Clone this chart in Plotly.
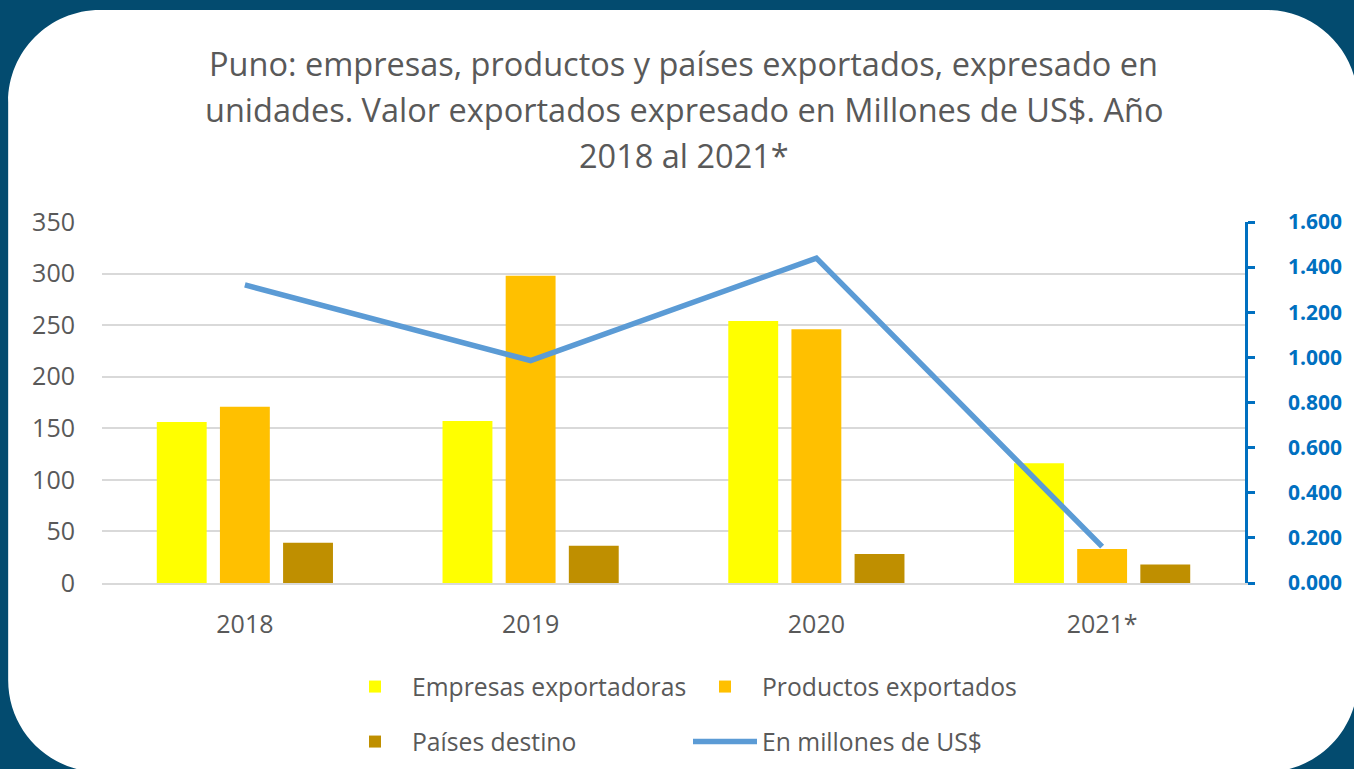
import plotly.graph_objects as go

# data
years = ["2018", "2019", "2020", "2021*"]
empresas = [156, 157, 254, 116]
productos = [171, 298, 246, 33]
paises = [39, 36, 28, 18]
valor_musd = [1.321, 0.986, 1.440, 0.161]

title_lines = [
    "Puno: empresas, productos y países exportados, expresado en",
    "unidades. Valor exportados expresado en Millones de US$. Año",
    "2018 al 2021*",
]

W, H = 1354, 769
PL, PR, PT, PB = 102, 1247, 222, 583  # plot area in pixels
FONT = "Open Sans"
GRAY = "#595959"
BLUE = "#0070C0"
FRAME = "#034B6F"


def fx(px):
    return (px - PL) / (PR - PL)


def fy(py):
    return (PB - py) / (PB - PT)


def rounded_rect(l, t, r, b, rad):
    k = 0.5523 * rad
    pts = [
        f"M{fx(l + rad)},{fy(t)}",
        f"L{fx(r - rad)},{fy(t)}",
        f"C{fx(r - rad + k)},{fy(t)} {fx(r)},{fy(t + rad - k)} {fx(r)},{fy(t + rad)}",
        f"L{fx(r)},{fy(b - rad)}",
        f"C{fx(r)},{fy(b - rad + k)} {fx(r - rad + k)},{fy(b)} {fx(r - rad)},{fy(b)}",
        f"L{fx(l + rad)},{fy(b)}",
        f"C{fx(l + rad - k)},{fy(b)} {fx(l)},{fy(b - rad + k)} {fx(l)},{fy(b - rad)}",
        f"L{fx(l)},{fy(t + rad)}",
        f"C{fx(l)},{fy(t + rad - k)} {fx(l + rad - k)},{fy(t)} {fx(l + rad)},{fy(t)}",
        "Z",
    ]
    return " ".join(pts)


def frame_path():
    # big outer box with the rounded card cut out of it
    outer = (f"M{fx(-60)},{fy(-60)} L{fx(W + 60)},{fy(-60)} "
             f"L{fx(W + 60)},{fy(H + 60)} L{fx(-60)},{fy(H + 60)} Z")
    return outer + " " + rounded_rect(8, 10, 1360, 772, 92)


fig = go.Figure()

fig.add_trace(go.Bar(x=years, y=empresas, name="Empresas exportadoras",
                     marker_color="#FFFF00", legend="legend"))
fig.add_trace(go.Bar(x=years, y=productos, name="Productos exportados",
                     marker_color="#FFC000", legend="legend"))
fig.add_trace(go.Bar(x=years, y=paises, name="Países destino",
                     marker_color="#BF8F00", legend="legend2"))
fig.add_trace(go.Scatter(x=years, y=valor_musd, name="En millones de US$",
                         mode="lines", yaxis="y2", legend="legend2",
                         line=dict(color="#5B9BD5", width=5.5)))

fig.update_traces(marker_line_width=0, selector=dict(type="bar"))

# dark blue frame around the white rounded card
fig.add_shape(type="path", xref="paper", yref="paper", layer="below",
              path=frame_path(), fillrule="evenodd",
              fillcolor=FRAME, line_width=0)

for i, txt in enumerate(title_lines):
    fig.add_annotation(text=txt, xref="paper", yref="paper",
                       x=fx(685), y=fy(63 + 46 * i),
                       xanchor="center", yanchor="middle", showarrow=False,
                       font=dict(family=FONT, size=32.5, color=GRAY))

# legends placed in container coords so they don't push the margins
legend_common = dict(
    orientation="h", xref="container", yref="container", x=338 / W,
    xanchor="left", yanchor="middle", entrywidth=271, itemwidth=64,
    font=dict(family=FONT, size=24.7, color=GRAY), bgcolor="rgba(0,0,0,0)",
    traceorder="normal",
)

fig.update_layout(
    width=W, height=H,
    margin=dict(l=PL, r=W - PR, t=PT, b=H - PB, pad=0),
    paper_bgcolor="white",
    plot_bgcolor="rgba(0,0,0,0)",
    font=dict(family=FONT, color=GRAY),
    barmode="group",
    bargap=0.337,
    bargroupgap=0.21,
    legend=dict(**legend_common, y=1 - 687 / H),
    legend2=dict(**legend_common, y=1 - 742 / H),
)

fig.update_xaxes(
    showgrid=False, showline=True, linecolor="#D9D9D9", linewidth=2,
    ticks="", tickfont=dict(family=FONT, size=25, color=GRAY),
    ticklabelstandoff=18,
)
fig.update_layout(
    yaxis=dict(
        range=[0, 350], dtick=50, showgrid=True, gridcolor="#D9D9D9",
        gridwidth=2, zeroline=False, showline=False, ticks="",
        tickfont=dict(family=FONT, size=25, color=GRAY),
        ticklabelstandoff=26,
    ),
    yaxis2=dict(
        overlaying="y", side="right", range=[0, 1.6], dtick=0.2,
        tickformat=".3f", showgrid=False, zeroline=False,
        showline=True, linecolor=BLUE, linewidth=2.5,
        ticks="outside", ticklen=7, tickwidth=2.5, tickcolor=BLUE,
        tickfont=dict(family=FONT, size=21, color=BLUE, weight="bold"),
        ticklabelstandoff=29,
    ),
)

fig.write_html(
    "out.html",
    config={"displayModeBar": False},
    post_script="document.body.style.margin='0';document.body.style.overflow='hidden';",
)
